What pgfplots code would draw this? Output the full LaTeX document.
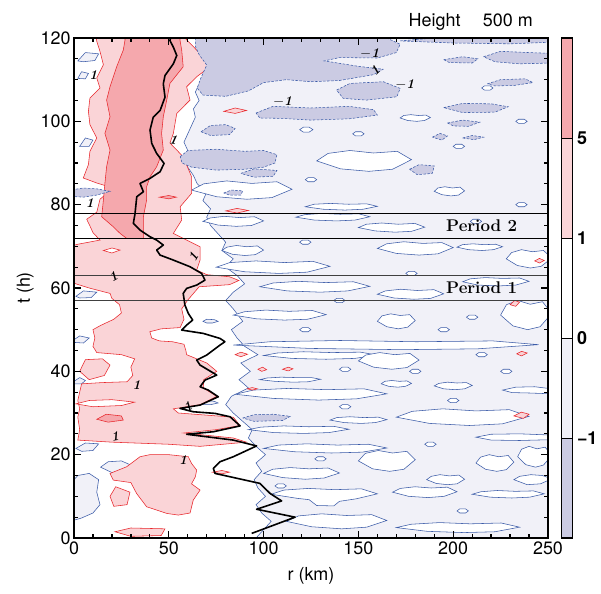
\documentclass[border=0pt]{standalone}
\usepackage{pgfplots}
\pgfplotsset{compat=1.18}
\usepackage{fontspec}
\newfontfamily\helv{TeX Gyre Heros}
\newcommand\lbl{\helv\fontsize{18}{21}\selectfont}
\newcommand\cbl{\helv\bfseries\fontsize{18}{21}\selectfont}
\newcommand\perf{\rmfamily\bfseries\addfontfeatures{FakeStretch=1.12}\fontsize{17}{17}\selectfont}
\definecolor{pinkD}{HTML}{F5A8AD}
\definecolor{pinkL}{HTML}{FAD4D7}
\definecolor{lavL}{HTML}{F1F1F8}
\definecolor{lavD}{HTML}{CBCBE3}
\definecolor{cblue}{HTML}{3B5BA8}
\definecolor{cred}{HTML}{E8262B}
\pgfplotsset{
 wst/.style={fill=white, draw=cblue, line width=0.55bp},
 lst/.style={fill=lavL, draw=cblue, line width=0.55bp},
 dst/.style={fill=lavD, draw=cblue, line width=0.55bp, dash pattern=on 2.5bp off 1.5bp},
 pst/.style={fill=pinkL, draw=cred, line width=0.55bp},
 qst/.style={fill=pinkD, draw=cred, line width=0.55bp},
 hst/.style={fill=white, draw=cred, line width=0.55bp},
}
\tikzset{clab/.style={font=\rmfamily\bfseries\itshape\fontsize{13.5}{13.5}\selectfont, inner sep=0pt}}
\begin{document}
\begin{tikzpicture}
\begin{axis}[
 at={(0,0)}, anchor=south west,
 scale only axis, width=474bp, height=500bp,
 xmin=0, xmax=250, ymin=0, ymax=120,
 xtick={0,50,...,250}, ytick={0,20,...,120},
 minor xtick={10,20,...,240}, minor ytick={5,10,...,115},
 tick align=inside, major tick length=7bp, minor tick length=4bp,
 tick style={line width=1.3bp, black},
 axis line style={line width=2bp},
 axis background/.style={fill=lavL},
 axis on top,
 ticklabel style={font=\lbl},
 /pgf/number format/assume math mode=true,
 xlabel={r (km)}, ylabel={t (h)}, label style={font=\lbl},
 xlabel style={yshift=-6bp},
]
% ---- white region (0 to 1) ----
\addplot[wst] coordinates {(-2,-2) (96,-2) (96,0) (100,2) (104,4) (99,6) (96,8) (101,10) (97,12) (95,14) (99,16) (96,18) (101,20) (96,22) (92,24) (94,26) (89,28) (84,30) (80,32) (83,34) (92,36) (87,38) (93,40) (88,42) (97,44) (90,46) (86,48) (83,50) (89,52) (84,55) (80,57) (84,59) (90,61) (86,63) (80,65) (84,67) (78,69) (80,71) (76,73) (72,75) (70,77) (72,79) (68,81) (70,83) (65,85) (63,87) (60,89) (58,91) (60,93) (58,95) (60,97) (62,99) (64,101) (63,103) (66,105) (64,107) (66,109) (70,111) (75,113) (75,115) (71,117) (67,119) (66,122) (-2,122)} -- cycle;
% white streaks
\addplot[wst] coordinates {(112,4) (118.4,5.3) (130.6,5.8) (143.8,5.4) (157,5.6) (165,4.2) (154.4,2.6) (141.2,2.2) (125.3,2.7)} -- cycle;
\addplot[wst] coordinates {(170,2.5) (177.8,3.3) (192.8,3.7) (209,3.4) (225.3,3.6) (235,2.6) (222,1.5) (205.8,1.3) (186.3,1.6)} -- cycle;
\addplot[wst] coordinates {(104,10.5) (110.7,11.5) (123.6,11.9) (137.6,11.6) (151.6,11.8) (160,10.6) (148.8,9.4) (140,8.8) (137,7.7) (128,7.8) (124,9.2) (118,9.5)} -- cycle;
\addplot[wst] coordinates {(168,11) (172.1,11.9) (179.9,12.3) (188.4,12) (196.9,12.2) (202,11.1) (195.2,10) (186.7,9.7) (176.5,10)} -- cycle;
\addplot[wst] coordinates {(210,10.5) (214.6,11.1) (223.3,11.4) (232.8,11.2) (242.3,11.3) (248,10.6) (240.4,9.8) (230.9,9.6) (219.5,9.8)} -- cycle;
\addplot[wst] coordinates {(100,15.5) (104.8,16.5) (114,16.9) (124,16.6) (134,16.8) (140,15.6) (132,14.4) (122,14.1) (110,14.5)} -- cycle;
\addplot[wst] coordinates {(186,14) (188.4,14.8) (193,15.2) (198,14.9) (203,15.1) (206,14.1) (202,13) (197,12.8) (191,13.1)} -- cycle;
\addplot[wst] coordinates {(150,18.5) (153.6,20.3) (160.5,21) (168,20.4) (175.5,20.8) (180,18.8) (174,16.5) (166.5,16) (157.5,16.6)} -- cycle;
\addplot[wst] coordinates {(100,21.5) (107.8,22.3) (122.8,22.6) (139,22.3) (155.3,22.5) (165,21.6) (152,20.6) (135.8,20.4) (116.3,20.7)} -- cycle;
\addplot[wst] coordinates {(92,26) (98.4,26.6) (110.6,26.9) (123.8,26.7) (137,26.8) (145,26.1) (134.4,25.3) (121.2,25.1) (105.3,25.3)} -- cycle;
\addplot[wst] coordinates {(135,28.3) (138.6,28.9) (145.5,29.1) (153,28.9) (160.5,29) (165,28.4) (159,27.7) (151.5,27.5) (142.5,27.7)} -- cycle;
\addplot[wst] coordinates {(170,29) (178.4,30.4) (194.5,31) (212,30.5) (229.5,30.8) (240,29.2) (226,27.4) (208.5,27) (187.5,27.5)} -- cycle;
\addplot[wst] coordinates {(85,34.5) (94.6,35.5) (113,35.9) (133,35.6) (153,35.8) (165,34.6) (149,33.4) (129,33.1) (105,33.5)} -- cycle;
\addplot[wst] coordinates {(162,37) (163.9,37.6) (167.6,37.8) (171.6,37.6) (175.6,37.7) (178,37.1) (174.8,36.4) (170.8,36.2) (166,36.4)} -- cycle;
\addplot[wst] coordinates {(190,36.5) (192.4,37.1) (197,37.4) (202,37.2) (207,37.3) (210,36.6) (206,35.8) (201,35.6) (195,35.8)} -- cycle;
\addplot[wst] coordinates {(98,38) (101.8,38.4) (109.2,38.6) (117.2,38.5) (125.2,38.5) (130,38.1) (123.6,37.5) (115.6,37.4) (106,37.6)} -- cycle;
\addplot[wst] coordinates {(100,43.8) (107.2,44.4) (121,44.7) (136,44.5) (151,44.6) (160,43.9) (148,43.1) (133,42.9) (115,43.1)} -- cycle;
\addplot[wst] coordinates {(150,42.5) (153.8,43.9) (161.2,44.5) (169.2,44) (177.2,44.3) (182,42.7) (175.6,40.9) (167.6,40.5) (158,41)} -- cycle;
\addplot[wst] coordinates {(84,46.3) (103.3,47.1) (140.4,47.4) (180.6,47.1) (220.9,47.3) (245,46.4) (212.8,45.4) (172.6,45.2) (124.3,45.5)} -- cycle;
\addplot[wst] coordinates {(84,53.5) (89.9,54.3) (101.2,54.7) (113.4,54.4) (125.7,54.6) (133,53.6) (123.2,52.5) (111,52.3) (96.3,52.6)} -- cycle;
\addplot[wst] coordinates {(160,52) (162.4,53.3) (167,53.8) (172,53.4) (177,53.6) (180,52.2) (176,50.6) (171,50.2) (165,50.7)} -- cycle;
\addplot[wst] coordinates {(225,53.5) (228.1,56) (234.1,57) (240.6,56.1) (247.1,56.7) (252,53.9) (245.8,50.7) (239.3,50) (231.5,50.9)} -- cycle;
\addplot[wst] coordinates {(212,18) (214.4,19.4) (219,20) (224,19.5) (229,19.8) (232,18.2) (228,16.4) (223,16) (217,16.5)} -- cycle;
\addplot[wst] coordinates {(234,19.5) (236,21.3) (240,22) (244.2,21.4) (248.5,21.8) (252,19.8) (247.6,17.5) (243.4,17) (238.3,17.6)} -- cycle;
\addplot[wst] coordinates {(232,14) (235,14.8) (241,15.2) (247,15) (252,14.2) (246,13) (239,12.8)} -- cycle;
\addplot[wst] coordinates {(226,35.5) (233,36.2) (243,36.3) (252,35.8) (252,34.6) (240,34.8) (231,34.9)} -- cycle;
\addplot[wst] coordinates {(212,24.2) (220,24.9) (235,25) (252,24.7) (252,23.6) (235,23.4) (220,23.5)} -- cycle;
\addplot[wst] coordinates {(98,60.3) (105,61.2) (118.3,61.6) (132.8,61.3) (147.3,61.5) (156,60.4) (144.4,59.3) (129.9,59) (112.5,59.3)} -- cycle;
\addplot[wst] coordinates {(160,58.5) (164.2,59.3) (172.3,59.7) (181,59.4) (189.8,59.6) (195,58.6) (188,57.5) (179.3,57.3) (168.8,57.6)} -- cycle;
\addplot[wst] coordinates {(205,61.5) (209,62.2) (217,62.5) (226,62.3) (235,62.4) (240,61.6) (233,60.7) (224,60.5) (213,60.7)} -- cycle;
\addplot[wst] coordinates {(75,65) (82.2,66.1) (96,66.5) (111,66.1) (126,66.4) (135,65.2) (123,63.8) (108,63.5) (90,63.9)} -- cycle;
\addplot[wst] coordinates {(160,69.5) (164.8,70.6) (174,71.1) (184,70.7) (194,70.9) (200,69.7) (192,68.2) (182,67.9) (170,68.3)} -- cycle;
\addplot[wst] coordinates {(202,69.8) (204.9,70.4) (210.4,70.6) (216.4,70.4) (222.4,70.5) (226,69.9) (221.2,69.2) (215.2,69) (208,69.2)} -- cycle;
\addplot[wst] coordinates {(228,67) (230.8,68.5) (236,69.2) (241.8,68.7) (247.6,69) (252,67.2) (246.4,65.2) (240.7,64.8) (233.8,65.4)} -- cycle;
\addplot[wst] coordinates {(78,69) (80.6,69.8) (85.7,70.2) (91.2,69.9) (96.7,70.1) (100,69.1) (95.6,68) (90.1,67.8) (83.5,68.1)} -- cycle;
\addplot[wst] coordinates {(68,76) (71.8,76.8) (79.2,77.2) (87.2,76.9) (95.2,77.1) (100,76.1) (93.6,75) (85.6,74.8) (76,75.1)} -- cycle;
\addplot[wst] coordinates {(117,77) (121.7,77.6) (130.7,77.9) (140.4,77.7) (150.2,77.8) (156,77.1) (148.2,76.3) (138.5,76.1) (126.8,76.3)} -- cycle;
\addplot[wst] coordinates {(150,74.5) (154.2,75.3) (162.3,75.6) (171,75.3) (179.8,75.5) (185,74.6) (178,73.6) (169.3,73.4) (158.8,73.7)} -- cycle;
\addplot[wst] coordinates {(122,79.5) (126.6,80.1) (135.3,80.3) (144.8,80.1) (154.3,80.2) (160,79.6) (152.4,78.9) (142.9,78.7) (131.5,78.9)} -- cycle;
\addplot[wst] coordinates {(62,83.5) (68.4,85) (80.6,85.7) (93.8,85.1) (107,85.5) (115,83.7) (104.4,81.7) (91.2,81.3) (75.3,81.9)} -- cycle;
\addplot[wst] coordinates {(190,83.2) (191.9,84) (195.6,84.3) (199.6,84) (203.6,84.2) (206,83.3) (202.8,82.3) (198.8,82.1) (194,82.4)} -- cycle;
\addplot[wst] coordinates {(128,90.5) (134,92.3) (145.5,93) (158,92.4) (170.5,92.8) (178,90.8) (168,88.5) (155.5,88) (140.5,88.6)} -- cycle;
\addplot[wst] coordinates {(172,100.8) (173.9,101.4) (177.6,101.6) (181.6,101.4) (185.6,101.5) (188,100.9) (184.8,100.2) (180.8,100) (176,100.2)} -- cycle;
% small white dots
\addplot[wst] coordinates {(177,40) (178.5,40.5) (181.5,40.5) (183,40) (181.5,39.5) (178.5,39.5)} -- cycle;
\addplot[wst] coordinates {(197,33) (198.5,33.5) (201.5,33.5) (203,33) (201.5,32.5) (198.5,32.5)} -- cycle;
\addplot[wst] coordinates {(212,44) (213.5,44.5) (216.5,44.5) (218,44) (216.5,43.5) (213.5,43.5)} -- cycle;
\addplot[wst] coordinates {(119,50) (120.5,50.5) (123.5,50.5) (125,50) (123.5,49.5) (120.5,49.5)} -- cycle;
\addplot[wst] coordinates {(192,50) (193.5,50.5) (196.5,50.5) (198,50) (196.5,49.5) (193.5,49.5)} -- cycle;
\addplot[wst] coordinates {(137,57) (138.5,57.5) (141.5,57.5) (143,57) (141.5,56.5) (138.5,56.5)} -- cycle;
\addplot[wst] coordinates {(202,6.5) (203.5,7) (206.5,7) (208,6.5) (206.5,6) (203.5,6)} -- cycle;
\addplot[wst] coordinates {(127,19) (128.5,19.5) (131.5,19.5) (133,19) (131.5,18.5) (128.5,18.5)} -- cycle;
\addplot[wst] coordinates {(225,40) (226.5,40.5) (229.5,40.5) (231,40) (229.5,39.5) (226.5,39.5)} -- cycle;
\addplot[wst] coordinates {(175,63.5) (176.5,64) (179.5,64) (181,63.5) (179.5,63) (176.5,63)} -- cycle;
\addplot[wst] coordinates {(119,71) (120.5,71.5) (123.5,71.5) (125,71) (123.5,70.5) (120.5,70.5)} -- cycle;
\addplot[wst] coordinates {(209,76) (210.5,76.5) (213.5,76.5) (215,76) (213.5,75.5) (210.5,75.5)} -- cycle;
\addplot[wst] coordinates {(233,80) (234.5,80.5) (237.5,80.5) (239,80) (237.5,79.5) (234.5,79.5)} -- cycle;
\addplot[wst] coordinates {(200,94) (201.5,94.5) (204.5,94.5) (206,94) (204.5,93.5) (201.5,93.5)} -- cycle;
\addplot[wst] coordinates {(147,97) (148.5,97.5) (151.5,97.5) (153,97) (151.5,96.5) (148.5,96.5)} -- cycle;
\addplot[wst] coordinates {(122,86) (123.5,86.5) (126.5,86.5) (128,86) (126.5,85.5) (123.5,85.5)} -- cycle;
\addplot[wst] coordinates {(215,108) (216.5,108.5) (219.5,108.5) (221,108) (219.5,107.5) (216.5,107.5)} -- cycle;
\addplot[wst] coordinates {(233,100) (234.5,100.5) (237.5,100.5) (239,100) (237.5,99.5) (234.5,99.5)} -- cycle;
\addplot[wst] coordinates {(119,98) (121,98.6) (124,98.6) (126,98) (124,97.4) (121,97.4)} -- cycle;
\addplot[wst] coordinates {(106,12.5) (107.5,13) (110.5,13) (112,12.5) (110.5,12) (107.5,12)} -- cycle;
\addplot[wst] coordinates {(140,31.5) (141.5,32) (144.5,32) (146,31.5) (144.5,31) (141.5,31)} -- cycle;
\addplot[wst] coordinates {(185,22.5) (186.5,23) (189.5,23) (191,22.5) (189.5,22) (186.5,22)} -- cycle;
\addplot[wst] coordinates {(140,40.5) (141.5,41) (144.5,41) (146,40.5) (144.5,40) (141.5,40)} -- cycle;
\addplot[wst] coordinates {(207,53) (208.5,53.5) (211.5,53.5) (213,53) (211.5,52.5) (208.5,52.5)} -- cycle;
% ---- light lavender islands (-1 to 0) inside white ----
\addplot[lst] coordinates {(-2,4) (4,4.8) (10,6) (13.7,8) (12,11) (13,14) (8,15.5) (2,15) (-2,13)} -- cycle;
\addplot[lst] coordinates {(14,17) (18,18.3) (25,18.5) (30,17.5) (27,16) (20,15.7)} -- cycle;
\addplot[lst] coordinates {(-2,37) (3,38.5) (6,37.8) (4,37)} -- cycle;
\addplot[lst] coordinates {(1,21.5) (6,22.8) (13,22.6) (10,21) (4,20.8)} -- cycle;
\addplot[lst] coordinates {(2,114.5) (6,116.5) (13,116.2) (11,114.6) (5,114.3)} -- cycle;
\addplot[lst] coordinates {(2,110.3) (4,111.9) (7.6,111.5) (6,110.2)} -- cycle;
\addplot[lst] coordinates {(3,94) (6,96) (10,95.5) (8,94)} -- cycle;
\addplot[lst] coordinates {(1,58) (5,59.3) (12,59) (9,57.7) (3,57.6)} -- cycle;
\addplot[lst] coordinates {(-2,47) (3,48.5) (8,48) (5,46.8)} -- cycle;
\addplot[lst] coordinates {(68,52) (70,52.5) (74,52.4) (76,52) (73,51.6) (70,51.6)} -- cycle;
\addplot[lst] coordinates {(66,32.4) (69,33) (74,32.8) (76,32.4) (72,32) (68,32)} -- cycle;
% ---- light pink (1 to 5) ----
\addplot[pst] coordinates {(2,23.5) (3,26) (2,29) (3,31) (2,33) (3,35) (4,37) (15,37.3) (28,37.5) (31,39) (30,41) (32,43) (25,44) (12,44.5) (10,46) (11,48) (10,50) (14,51) (21,52.5) (25,54) (24,56) (20,57.5) (19,58.7) (8,60) (1,61) (-2,61.5) (-2,70) (2,70.5) (13.7,71.5) (10,73.3) (8.4,74.9) (6.7,76.5) (12,78.2) (13.7,81.3) (20.7,84) (12,85.2) (4.9,86.4) (7.6,89.6) (8.4,92.8) (12,96) (8.4,99.2) (7.6,102.4) (8.4,105.6) (13.7,108) (12,110.4) (15.5,113.6) (13.7,116.8) (12,119.2) (11,122) (58,122) (58.5,120) (64.7,117.1) (70,114.7) (71.8,113.1) (64.7,110.7) (59.4,108.3) (61.2,105.1) (54.2,101.9) (52.4,97.1) (50.6,94.8) (57.6,91.5) (62,86.7) (62,82.7) (56,79.5) (56.8,76.3) (52.4,73.1) (59.4,71.5) (66.5,69.9) (66.5,66.7) (64.7,64.3) (70,63.2) (82,62.7) (87,61.8) (82,60.8) (66,60.3) (63,58.7) (60,57.1) (56.8,55) (58,52.5) (56,50.5) (46,50.2) (40,49.5) (41,48) (45,47.3) (52,47.1) (58,46.5) (59,45) (59.4,44) (70,42) (75.3,40) (68.4,38) (68.2,36) (75.3,34) (66.5,32) (52.4,31) (55,30) (84,29) (87.6,27) (75,26) (58,25.2) (84,24) (91,23) (66.5,22) (50,22.5) (20,23)} -- cycle;
\addplot[pst] coordinates {(34.8,19.5) (27.8,17.1) (19,15.5) (20.7,13.9) (30,13.3) (33,10.7) (38.3,7.5) (48.9,5.9) (55,5.5) (61.2,6) (62.9,9.1) (66.5,11.5) (62,13) (64,14.7) (64.7,16.3) (62,17.9) (60.3,19.5) (50,20) (40,20)} -- cycle;
\addplot[pst] coordinates {(19,10) (22,12.3) (29.5,11) (28,8) (21,7.6)} -- cycle;
\addplot[pst] coordinates {(21.6,1.5) (30,2.4) (48,2.2) (46,0.6) (30,0.4)} -- cycle;
\addplot[pst] coordinates {(3,40) (6,42.8) (15,43) (19,41.5) (16,39) (8,38)} -- cycle;
% small pink islands
\addplot[pst] coordinates {(79,102.4) (85,103.2) (91,102.6) (85,101.9)} -- cycle;
\addplot[pst] coordinates {(80,78.5) (86,79.1) (92,78.6) (86,78)} -- cycle;
\addplot[pst] coordinates {(85,44) (88,44.6) (91.5,44.1) (88,43.5)} -- cycle;
\addplot[pst] coordinates {(97,40.5) (99.5,41) (101.6,40.4) (99,40)} -- cycle;
\addplot[pst] coordinates {(110,40.5) (113,41) (115.5,40.6) (113,40.1)} -- cycle;
\addplot[pst] coordinates {(91.4,35.8) (94,36.1) (96.7,35.8) (94,35.5)} -- cycle;
\addplot[pst] coordinates {(232,29.3) (236,30.2) (240,29.7) (237,28.7)} -- cycle;
\addplot[pst] coordinates {(233.5,44.2) (236,44.8) (239,44.4) (236,43.7)} -- cycle;
\addplot[pst] coordinates {(243,66.5) (245.5,67.1) (248,66.6) (245.5,66)} -- cycle;
\addplot[pst] coordinates {(230,56) (232.5,57) (235,56.6) (233,55.6)} -- cycle;
\addplot[pst] coordinates {(73,15.8) (78,16.2) (82,15.8) (78,15.4)} -- cycle;
% holes in pink
\addplot[hst] coordinates {(1,32.2) (8,33) (20,33.2) (32,32.6) (25,31.8) (10,31.5)} -- cycle;
\addplot[hst] coordinates {(15.5,69) (20,69.6) (24.3,69.1) (20,68.4)} -- cycle;
% ---- dark pink (> 5) ----
\addplot[qst] coordinates {(27.8,71.9) (24.3,73.1) (20.7,74.7) (14.6,77.1) (15.5,81.1) (16.3,85.1) (17.2,89.1) (19,93.1) (16.3,97.1) (19,101.1) (17.2,105.1) (19,108.3) (22.5,113.1) (26,117.1) (26.9,119.5) (27,122) (56,122) (55.9,119.5) (56.8,117.1) (57.6,113.1) (50.6,109.1) (48.9,105.1) (47.1,101.1) (46.2,97.1) (47.1,93.1) (43.6,89.1) (40.1,86.7) (38.3,84.3) (38.3,81.1) (36.6,77.1) (36.6,73.1) (36.6,71.9)} -- cycle;
\addplot[qst] coordinates {(12,28.5) (17,29.7) (25,29.3) (26,28.3) (18,27.8)} -- cycle;
\addplot[qst] coordinates {(45,81.8) (50,82.2) (54,81.8) (50,81.4)} -- cycle;
% ---- dark lavender (< -1) ----
\addplot[dst] coordinates {(64,122) (64,118) (66,116) (70,113.5) (67,110.5) (65,108) (68,106.3) (80,106) (92,107.3) (100,109.3) (112,110) (125,109.5) (140,109.8) (158,111.2) (163,112.5) (150,113.2) (132,114.5) (140,115.3) (160,115.2) (170,116.5) (172,118.5) (165,120) (160,122)} -- cycle;
\addplot[dst] coordinates {(138.5,107.5) (145.6,109.1) (163.2,109.5) (172,107.9) (170.3,105.9) (154.4,105.1) (142,105.5)} -- cycle;
\addplot[dst] coordinates {(96,102) (105,103.6) (125,103.2) (145,103.6) (158,102.8) (160,101.5) (145,100.6) (125,100.3) (110,100.7) (98,100.8)} -- cycle;
\addplot[dst] coordinates {(216,115.5) (225,116.8) (240,116.5) (252,116.3) (252,114) (235,113.8) (222,114.3)} -- cycle;
\addplot[dst] coordinates {(195,114.8) (205,115.5) (213,115) (210,114) (198,114.1)} -- cycle;
\addplot[dst] coordinates {(195,103.3) (205,104.3) (220,104.2) (229,103.5) (222,102.2) (205,102.1)} -- cycle;
\addplot[dst] coordinates {(197,99.6) (205,100.3) (214,99.8) (208,98.8) (200,98.9)} -- cycle;
\addplot[dst] coordinates {(218,109) (225,110) (238,110.2) (242,109.3) (232,108.6) (222,108.5)} -- cycle;
\addplot[dst] coordinates {(172,119.3) (200,120.4) (252,120.4) (252,119) (230,118.6) (200,118.8)} -- cycle;
\addplot[dst] coordinates {(205,96) (210,96.6) (216,96.2) (211,95.6)} -- cycle;
\addplot[dst] coordinates {(56,91.5) (60,93) (75,93.3) (90,92.8) (100,93) (107,92) (106,90) (100,89) (90,88.5) (75,88.3) (62,89) (57,90)} -- cycle;
\addplot[dst] coordinates {(67,97.5) (72,99) (80,99.2) (85,98.3) (82,96.8) (72,96.6)} -- cycle;
\addplot[dst] coordinates {(88,87.5) (95,88.6) (107,88.2) (105,86.8) (95,86.6)} -- cycle;
\addplot[dst] coordinates {(79,82.8) (83,83.5) (89,83.3) (88,82.3) (82,82.3)} -- cycle;
\addplot[dst] coordinates {(177,88.5) (182,89.6) (190,89.3) (189,87.5) (181,87.2)} -- cycle;
\addplot[dst] coordinates {(89,28.8) (95,29.6) (105,29.7) (114,29.2) (110,28.2) (95,28)} -- cycle;
\addplot[dst] coordinates {(-2,82) (-2,83.5) (5,84) (12,83.8) (19,83.2) (12,82.3) (5,81.8)} -- cycle;
\addplot[dst] coordinates {(189,96.2) (193,97.1) (197,96.5) (194,95.5)} -- cycle;
% ---- period lines ----
\addplot[black!75, line width=1bp] coordinates {(0,57) (250,57)};
\addplot[black!75, line width=1bp] coordinates {(0,63) (250,63)};
\addplot[black, line width=0.7bp] coordinates {(0,72) (250,72)};
\addplot[black, line width=0.7bp] coordinates {(0,78) (250,78)};
% ---- RMW curve ----
\addplot[black, line width=1.6bp, line join=round] coordinates {(93.7,1.1) (116.6,5.0) (96.3,6.9) (109.5,8.9) (103.4,10.7) (98.1,13.1) (90.2,13.9) (82.3,14.7) (74.4,15.5) (73.5,16.7) (77,18.3) (84,19.5) (96.3,22.1) (84,23.5) (59.4,24.9) (73.5,25.5) (87.6,26.9) (82.3,29.1) (74.4,29.9) (62.9,30.3) (55.9,31.1) (66.5,31.9) (76.1,33.9) (70.8,35.5) (66.5,36.3) (69.1,37.9) (75.3,39.1) (66.5,41.5) (64.7,42.7) (70,43.9) (77,46.3) (79.6,47.1) (77,47.9) (68.2,49.1) (56.8,49.9) (59.4,51.1) (62.6,52.3) (60.3,53.9) (58.5,55.9) (57.6,58.7) (59.4,59.9) (64.7,60.7) (69.1,61.9) (67.3,63.5) (61.2,65.1) (52.4,66.7) (45.4,67.9) (43.6,69.1) (47.1,70.3) (43.6,71.5) (40.1,72.3) (34.8,73.9) (31.3,75.5) (32.2,77.9) (33.1,81.9) (36.6,83.1) (34.8,85.1) (40.1,86.3) (45.4,87.9) (47.5,89.9) (43.6,92.3) (41,94.7) (40.1,97.9) (41.8,101) (45.4,102.6) (48,105.8) (47.1,109) (48,111) (52.4,113.8) (54.2,115.8) (52.4,117.8) (50.6,119.4) (51,120)};
% ---- contour labels ----
\node[clab] at (axis cs:33,36.7) {1};
\node[clab, rotate=10] at (axis cs:21.6,24.3) {1};
\node[clab] at (axis cs:57.6,18.7) {1};
\node[clab, rotate=30] at (axis cs:60,31.5) {1};
\node[clab] at (axis cs:10.2,111.2) {1};
\node[clab, rotate=-10] at (axis cs:52.4,95.6) {1};
\node[clab, rotate=60] at (axis cs:62.9,67.5) {1};
\node[clab, rotate=30] at (axis cs:20.7,62.7) {1};
\node[clab] at (axis cs:8.4,80.3) {1};
\node[clab] at (axis cs:156,116.3) {$-$1};
\node[clab, rotate=45] at (axis cs:158.8,112.3) {1};
\node[clab] at (axis cs:174.5,108.9) {$-$1};
\node[clab] at (axis cs:110,104.8) {$-$1};
\node[font=\perf, inner sep=0pt] at (axis cs:215,75) {Period 2};
\node[font=\perf, inner sep=0pt] at (axis cs:215,60) {Period 1};
\end{axis}
% ---- colour bar ----
\begin{axis}[
 at={(487.5bp,0)}, anchor=south west,
 scale only axis, width=11bp, height=500bp,
 xmin=0, xmax=1, ymin=0, ymax=5,
 xtick=\empty, ytick={1,2,3,4}, yticklabels={−1,0,1,5},
 yticklabel pos=right, major tick length=0pt,
 yticklabel style={font=\cbl, xshift=1bp},
 axis line style={line width=1.2bp},
 axis on top,
]
\addplot[fill=lavD, draw=black, line width=0.9bp] coordinates {(0,0) (1,0) (1,1) (0,1)} -- cycle;
\addplot[fill=lavL, draw=black, line width=0.9bp] coordinates {(0,1) (1,1) (1,2) (0,2)} -- cycle;
\addplot[fill=white, draw=black, line width=0.9bp] coordinates {(0,2) (1,2) (1,3) (0,3)} -- cycle;
\addplot[fill=pinkL, draw=black, line width=0.9bp] coordinates {(0,3) (1,3) (1,4) (0,4)} -- cycle;
\addplot[fill=pinkD, draw=black, line width=0.9bp] coordinates {(0,4) (1,4) (1,5) (0,5)} -- cycle;
\end{axis}
\node[anchor=base east, inner sep=0pt, font=\lbl] at (459bp,511bp) {Height\hspace{1.25em}500 m};
\pgfresetboundingbox
\path (-74bp,-56bp) rectangle (527bp,538bp);
\end{tikzpicture}
\end{document}
